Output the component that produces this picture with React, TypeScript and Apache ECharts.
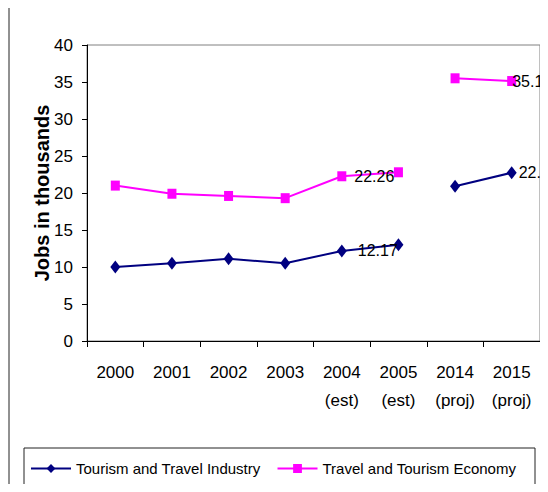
import React, { useEffect, useRef } from "react";
import * as echarts from "echarts";

const categories = ["2000", "2001", "2002", "2003", "2004\n(est)", "2005\n(est)", "2014\n(proj)", "2015\n(proj)"];
const industryValues: (number | null)[] = [10.0, 10.5, 11.1, 10.5, 12.17, 13.0, null, null];
const industryProj: (number | null)[] = [null, null, null, null, null, null, 20.9, 22.74];
const economyValues: (number | null)[] = [21.0, 19.9, 19.6, 19.3, 22.26, 22.8, null, null];
const economyProj: (number | null)[] = [null, null, null, null, null, null, 35.5, 35.13];
const labeledIndexes = [4, 7];
const seriesNames = ["Tourism and Travel Industry", "Travel and Tourism Economy"];
const yAxisTitle = "Jobs in thousands";

const FONT = "'Liberation Sans', Arial, sans-serif";

function buildData(values: (number | null)[], labelOffset: number[] = [0, 0]) {
  return values.map((v, i) =>
    labeledIndexes.includes(i) && v !== null
      ? { value: v, label: { show: true, offset: labelOffset } }
      : v
  );
}

export default function App() {
  const ref = useRef<HTMLDivElement>(null);
  useEffect(() => {
    if (!ref.current) return;
    const chart = echarts.init(ref.current, undefined, { renderer: "svg" });
    const labelStyle = {
      show: false,
      position: "right" as const,
      distance: 8,
      color: "#000",
      fontSize: 16,
      fontFamily: FONT,
    };
    const industryStyle = {
      type: "line" as const,
      name: seriesNames[0],
      connectNulls: false,
      symbol: "diamond",
      symbolSize: [10, 13],
      showAllSymbol: true,
      color: "#000080",
      lineStyle: { color: "#000080", width: 2 },
      itemStyle: { color: "#000080" },
      label: labelStyle,
    };
    const economyStyle = {
      type: "line" as const,
      name: seriesNames[1],
      connectNulls: false,
      symbol: "rect",
      symbolSize: [9, 10],
      showAllSymbol: true,
      color: "#FF00FF",
      lineStyle: { color: "#FF00FF", width: 2 },
      itemStyle: { color: "#FF00FF" },
      label: labelStyle,
    };
    chart.setOption({
      animation: false,
      backgroundColor: "#fff",
      graphic: [
        {
          type: "rect",
          shape: { x: 9, y: 5, width: 700, height: 700 },
          style: { fill: "none", stroke: "#222", lineWidth: 1 },
          z: -1,
        },
        {
          type: "rect",
          shape: { x: 24, y: 448, width: 511, height: 42 },
          style: { fill: "#fff", stroke: "#222", lineWidth: 1 },
          z: -1,
        },
      ],
      grid: {
        left: 87,
        right: 8,
        top: 45,
        bottom: 151,
        show: true,
        borderColor: "#808080",
        borderWidth: 1,
        backgroundColor: "transparent",
      },
      legend: {
        left: 30,
        top: 461,
        padding: 0,
        itemWidth: 40,
        itemHeight: 11,
        itemGap: 16,
        textStyle: { fontSize: 15, fontFamily: FONT, color: "#000" },
        data: seriesNames,
      },
      xAxis: {
        type: "category",
        data: categories,
        boundaryGap: true,
        axisLine: { lineStyle: { color: "#000", width: 1 } },
        axisTick: { show: true, length: 6, lineStyle: { color: "#000" } },
        axisLabel: {
          color: "#000",
          fontSize: 17,
          fontFamily: FONT,
          lineHeight: 28,
          margin: 17,
          interval: 0,
        },
      },
      yAxis: {
        type: "value",
        min: 0,
        max: 40,
        interval: 5,
        name: yAxisTitle,
        nameLocation: "middle",
        nameRotate: 90,
        nameGap: 35,
        nameMoveOverlap: false,
        nameTextStyle: { fontSize: 20, fontWeight: "bold", fontFamily: FONT, color: "#000" },
        splitLine: { show: false },
        axisLine: { show: true, lineStyle: { color: "#000", width: 1 } },
        axisTick: { show: true, length: 5, lineStyle: { color: "#000" } },
        axisLabel: { color: "#000", fontSize: 17, fontFamily: FONT, margin: 14 },
      },
      series: [
        { ...industryStyle, data: buildData(industryValues, [3, 0]) },
        { ...industryStyle, data: buildData(industryProj, [-6, 0]) },
        { ...economyStyle, data: buildData(economyValues, [0, 0]) },
        { ...economyStyle, data: buildData(economyProj, [-12, 0]) },
      ],
    });
    return () => chart.dispose();
  }, []);
  return <div ref={ref} style={{ width: 548, height: 492, margin: -8 }} />;
}
